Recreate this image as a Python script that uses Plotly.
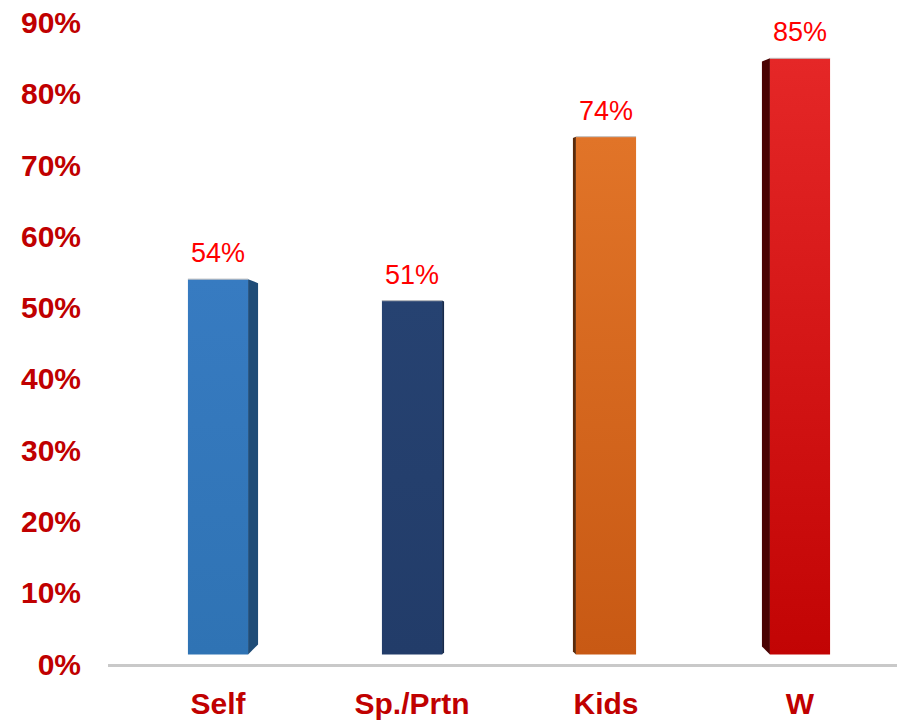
import plotly.graph_objects as go

# Share of respondents by group
categories = ["Self", "Sp./Prtn", "Kids", "W"]
values = [54, 51, 74, 85]
y_ticks = [0, 10, 20, 30, 40, 50, 60, 70, 80, 90]

# Styling: front-face gradient (bottom, top), side-face colour, side placement
front_bottom = ["#2F73B4", "#223C69", "#C85914", "#C20404"]
front_top = ["#377BC1", "#264271", "#E17428", "#E52727"]
side_color = ["#1F4C77", "#162A4C", "#5A2A0A", "#4A0303"]
side_on_right = [True, True, False, False]
side_depth_px = [10, 2, 3, 8]

PX_PER_UNIT_X = 194.0     # pixels per category step
PX_PER_PCT = 7.125        # pixels per percentage point
BAR_W = 0.31              # front face width in category units
FLOOR = 1.35              # 3D floor offset of the bar bases (percent)

fig = go.Figure()

for i, (cat, v) in enumerate(zip(categories, values)):
    x0, x1 = i - BAR_W / 2, i + BAR_W / 2
    d = side_depth_px[i] / PX_PER_UNIT_X
    dy_top = 0.4 * side_depth_px[i] / PX_PER_PCT
    dy_bot = side_depth_px[i] / PX_PER_PCT
    if side_on_right[i]:
        sx = [x1, x1 + d, x1 + d, x1, x1]
    else:
        sx = [x0, x0 - d, x0 - d, x0, x0]
    sy = [v, v - dy_top, FLOOR + dy_bot, FLOOR, v]
    # side face
    fig.add_trace(go.Scatter(
        x=sx, y=sy, mode="lines", fill="toself",
        fillcolor=side_color[i], line=dict(width=0),
        hoverinfo="skip", showlegend=False))
    # front face with vertical gradient
    fig.add_trace(go.Scatter(
        x=[x0, x1, x1, x0, x0], y=[FLOOR, FLOOR, v, v, FLOOR],
        mode="lines", fill="toself", line=dict(width=0),
        fillgradient=dict(type="vertical",
                          colorscale=[[0, front_bottom[i]], [1, front_top[i]]]),
        name=cat, showlegend=False,
        hovertemplate=f"{cat}: {v}%<extra></extra>"))
    # thin highlight along the top edge
    fig.add_trace(go.Scatter(
        x=[x0, x1], y=[v, v], mode="lines",
        line=dict(color="rgba(190,190,190,0.8)", width=1.2),
        hoverinfo="skip", showlegend=False))
    fig.add_annotation(
        x=i, y=v, text=f"{v}%", showarrow=False,
        xanchor="center", yanchor="bottom", yshift=9,
        font=dict(family="Liberation Sans, Arial", size=27, color="#FF0000"))

fig.update_layout(
    width=900, height=720,
    margin=dict(l=108, r=3, t=2, b=56),
    paper_bgcolor="white", plot_bgcolor="white",
    showlegend=False,
    xaxis=dict(
        range=[-0.567, 3.5], automargin=False,
        tickmode="array", tickvals=list(range(len(categories))), ticktext=categories,
        showgrid=False, zeroline=False,
        showline=True, linecolor="#C9C9C9", linewidth=3,
        ticks="", ticklabelstandoff=11,
        tickfont=dict(family="Liberation Sans, Arial", size=30, color="#C00000",
                      weight="bold"),
    ),
    yaxis=dict(
        range=[0, 92.9], automargin=False,
        tickmode="array", tickvals=y_ticks, ticktext=[f"{t}%" for t in y_ticks],
        showgrid=False, zeroline=False, showline=False,
        ticks="", ticklabelstandoff=26,
        tickfont=dict(family="Liberation Sans, Arial", size=30, color="#C00000",
                      weight="bold"),
    ),
)

fig.write_html("out.html")
